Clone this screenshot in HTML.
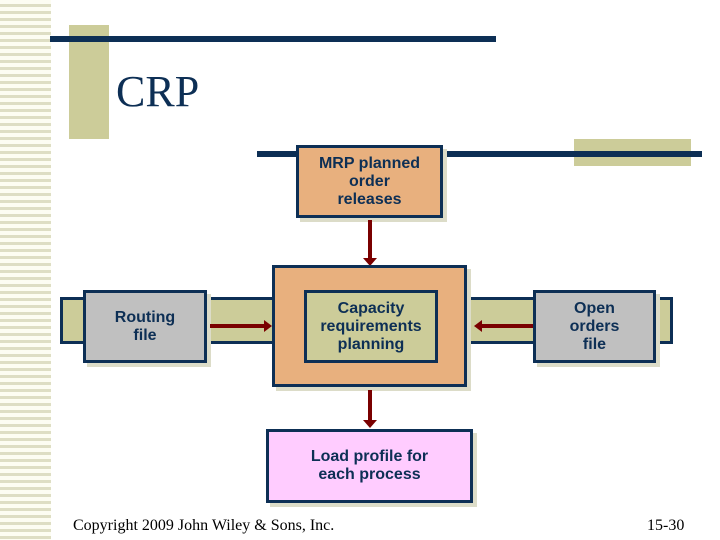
<!DOCTYPE html>
<html><head><meta charset="utf-8"><style>
body{margin:0;width:720px;height:540px;position:relative;background:#fff;overflow:hidden;font-family:"Liberation Sans",sans-serif}
.a{position:absolute;box-sizing:border-box}
.box{position:absolute;box-sizing:border-box;border:3px solid #0d2f55;display:flex;align-items:center;justify-content:center;text-align:center;font-weight:bold;color:#0d2f55;font-size:16px;line-height:18px;box-shadow:4px 4px 0 #dcdcc8}
.h{position:absolute;height:4px;background:#7a0000}
.v{position:absolute;width:4px;background:#7a0000}
</style></head><body>
<div class="a" style="left:0;top:0;width:51px;height:540px;background:repeating-linear-gradient(#fdfdf2 0,#fdfdf2 4px,#dedec4 4px,#dedec4 7px)"></div>
<div class="a" style="left:69px;top:25px;width:40px;height:114px;background:#cccc99"></div>
<div class="a" style="left:50px;top:36px;width:446px;height:6px;background:#0d2f55"></div>
<div class="a" style="left:116px;top:66px;font-family:'Liberation Serif',serif;font-size:44px;color:#0d2f55;line-height:52px">CRP</div>
<div class="a" style="left:574px;top:139px;width:117px;height:27px;background:#cccc99"></div>
<div class="a" style="left:257px;top:151px;width:445px;height:6px;background:#0d2f55"></div>
<div class="box" style="left:296px;top:145px;width:147px;height:73px;background:#e8b07e">MRP planned<br>order<br>releases</div>
<div class="v" style="left:368px;top:220px;height:40px"></div>
<div class="a" style="left:363px;top:258px;border-left:7px solid transparent;border-right:7px solid transparent;border-top:8px solid #7a0000"></div>
<div class="a" style="left:60px;top:297px;width:613px;height:47px;background:#cccc99;border:3px solid #0d2f55"></div>
<div class="box" style="left:272px;top:265px;width:195px;height:122px;background:#e8b07e"></div>
<div class="box" style="left:304px;top:290px;width:134px;height:73px;background:#cccc99;box-shadow:none">Capacity<br>requirements<br>planning</div>
<div class="box" style="left:83px;top:290px;width:124px;height:73px;background:#c0c0c0">Routing<br>file</div>
<div class="box" style="left:533px;top:290px;width:123px;height:73px;background:#c0c0c0">Open<br>orders<br>file</div>
<div class="h" style="left:210px;top:324px;width:56px"></div>
<div class="a" style="left:264px;top:320px;border-top:6px solid transparent;border-bottom:6px solid transparent;border-left:8px solid #7a0000"></div>
<div class="h" style="left:482px;top:324px;width:51px"></div>
<div class="a" style="left:474px;top:320px;border-top:6px solid transparent;border-bottom:6px solid transparent;border-right:8px solid #7a0000"></div>
<div class="v" style="left:368px;top:390px;height:32px"></div>
<div class="a" style="left:363px;top:420px;border-left:7px solid transparent;border-right:7px solid transparent;border-top:8px solid #7a0000"></div>
<div class="box" style="left:266px;top:429px;width:207px;height:74px;background:#ffccff">Load profile for<br>each process</div>
<div class="a" style="left:73px;top:517px;font-family:'Liberation Serif',serif;font-size:16px;color:#000">Copyright 2009 John Wiley &amp; Sons, Inc.</div>
<div class="a" style="left:647px;top:517px;font-family:'Liberation Serif',serif;font-size:16px;color:#000">15-30</div>
</body></html>
